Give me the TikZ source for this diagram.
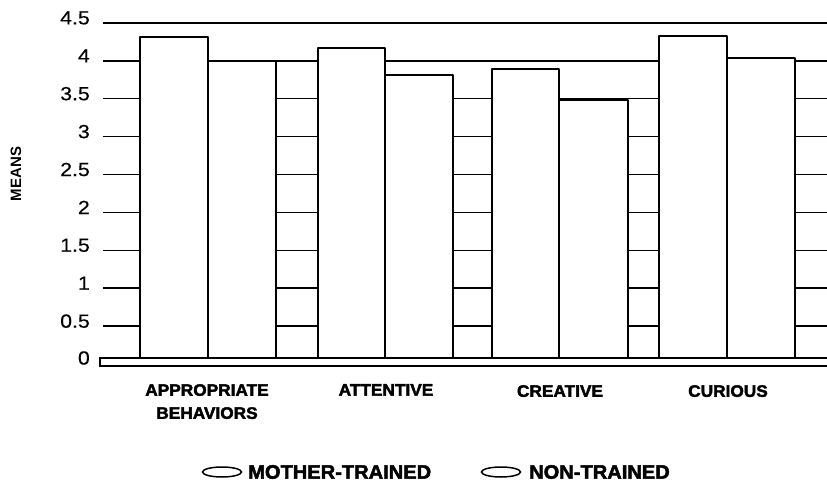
\documentclass[tikz,border=0pt]{standalone}
\usepackage{fontspec}
\usetikzlibrary{shapes.geometric}
\setmainfont{Liberation Sans}
\newfontfamily\heavy{Liberation Sans}[FakeStretch=1.04,FakeBold=2.4]
\newfontfamily\heavyleg{Liberation Sans}[FakeStretch=1.03,FakeBold=2.4]
\newfontfamily\widesans{Liberation Sans}[FakeStretch=1.12,FakeBold=0.4]
\begin{document}
\begin{tikzpicture}[x=1pt,y=-1pt,
  grid/.style={line width=1.6pt},
  bar/.style={draw,fill=white,line width=1.8pt,line join=round},
  ticklbl/.style={anchor=east,inner sep=0pt,font=\widesans\fontsize{19}{19}\selectfont},
  catlbl/.style={inner sep=0pt,align=center,font=\heavy\bfseries\fontsize{16.6}{23}\selectfont},
  leglbl/.style={anchor=west,inner sep=0pt,font=\heavyleg\bfseries\fontsize{19.5}{19.5}\selectfont},
  legkey/.style={draw,line width=1.5pt,ellipse,minimum width=39pt,minimum height=10pt,inner sep=0pt}]
\useasboundingbox (0,0) rectangle (827,492);
% gridlines
\foreach \v/\t [count=\i] in {0.5/0.5,1/1,1.5/1.5,2/2,2.5/2.5,3/3,3.5/3.5,4/4,4.5/4.5}{
  \pgfmathsetmacro{\yy}{364-75.8*\v}
  \coordinate (gl\i) at (103,\yy);
  \coordinate (gr\i) at (827,\yy);
  \draw[grid] (gl\i) -- (gr\i);
  \node[ticklbl] (lab\i) at (90,\yy-5) {\t};
}
\node[ticklbl] (lab0) at (90,358) {0};
% floor
\coordinate (f1) at (827,358);
\coordinate (f2) at (100,358);
\coordinate (f3) at (100,366);
\coordinate (f4) at (827,366);
\draw[grid] (f1) -- (f2) -- (f3) -- (f4);
% bars
\draw[bar] (140,358) rectangle (208,37);
\draw[bar] (208,358) rectangle (276,61);
\draw[bar] (318,358) rectangle (385,48);
\draw[bar] (385,358) rectangle (453,75);
\draw[bar] (492,358) rectangle (559,69);
\draw[bar] (559,358) rectangle (628,100);
\draw[bar] (659,358) rectangle (727,36);
\draw[bar] (727,358) rectangle (795,58);
% axis title
\node[rotate=90,inner sep=0pt,font=\bfseries\fontsize{15}{15}\selectfont] (means) at (16,174) {MEANS};
% category labels
\node[catlbl,anchor=north] (c1) at (207,384) {APPROPRIATE\\BEHAVIORS};
\node[catlbl,anchor=north] (c2) at (386,384) {ATTENTIVE};
\node[catlbl,anchor=north] (c3) at (560,385) {CREATIVE};
\node[catlbl,anchor=north] (c4) at (728,385) {CURIOUS};
% legend
\node[legkey] (k1) at (222,472) {};
\node[leglbl] (l1) at (248,472) {MOTHER-TRAINED};
\node[legkey] (k2) at (501,472) {};
\node[leglbl] (l2) at (529,472) {NON-TRAINED};
\end{tikzpicture}
\end{document}
